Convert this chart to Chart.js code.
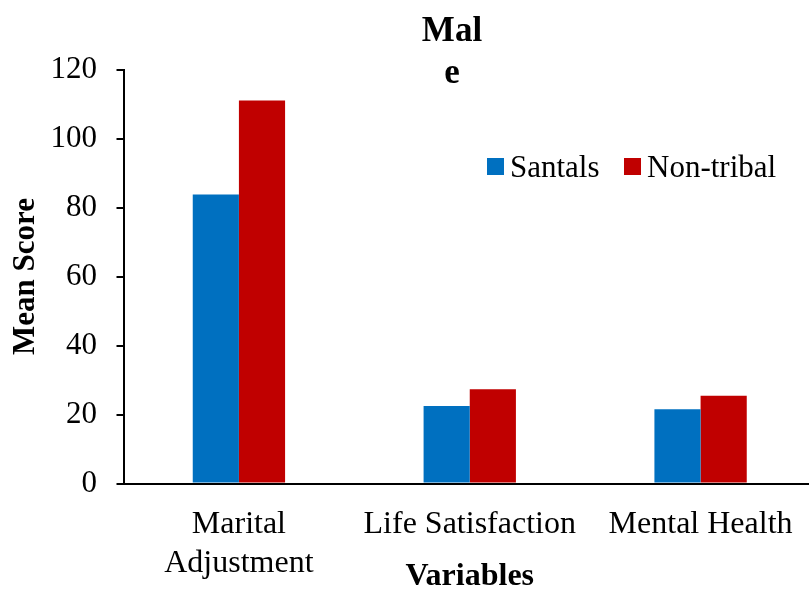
<!DOCTYPE html>
<html>
<head>
<meta charset="utf-8">
<script src="https://cdn.jsdelivr.net/npm/chart.js@4.4.1/dist/chart.umd.min.js"></script>
<style>
    html, body { margin: 0; padding: 0; background: #fff; overflow: hidden; }
    #wrap { width: 816px; height: 589px; position: relative; }
</style>
</head>
<body>
<div id="wrap"><canvas id="chart"></canvas></div>
<script>
// --- Data ---
const categories = [['Marital', 'Adjustment'], 'Life Satisfaction', 'Mental Health'];
const santals = [83.8, 22.5, 21.5];
const nonTribal = [111.0, 27.3, 25.4];
const yTicks = [0, 20, 40, 60, 80, 100, 120];
const titleLines = ['Mal', 'e'];

const SERIF = "'Liberation Serif', 'Times New Roman', serif";

// --- Title + legend drawn over the plot (as in the original figure) ---
const overlay = {
    id: 'overlay',
    afterDraw(chart) {
        const ctx = chart.ctx;
        ctx.save();
        ctx.fillStyle = '#000';
        ctx.textAlign = 'center';
        ctx.textBaseline = 'alphabetic';
        ctx.font = `bold 35px ${SERIF}`;
        titleLines.forEach((t, i) => ctx.fillText(t, 452, 41 + i * 42));

        // legend
        ctx.font = `31px ${SERIF}`;
        ctx.textAlign = 'left';
        const items = [{ x: 487 }, { x: 624 }];
        chart.data.datasets.forEach((ds, i) => {
            ctx.fillStyle = ds.backgroundColor;
            ctx.fillRect(items[i].x, 158, 17, 17);
            ctx.fillStyle = '#000';
            ctx.fillText(ds.label, items[i].x + 23, 176.5);
        });
        ctx.restore();
    }
};

new Chart(document.getElementById('chart'), {
    type: 'bar',
    data: {
        labels: categories,
        datasets: [
            { label: 'Santals', data: santals, backgroundColor: '#0070C0', categoryPercentage: 0.4, barPercentage: 1.0 },
            { label: 'Non-tribal', data: nonTribal, backgroundColor: '#C00000', categoryPercentage: 0.4, barPercentage: 1.0 }
        ]
    },
    options: {
        responsive: true,
        maintainAspectRatio: false,
        animation: false,
        layout: { padding: { top: 69.5, left: 0, right: 0, bottom: 0 } },
        plugins: { legend: { display: false }, tooltip: { enabled: false } },
        scales: {
            x: {
                grid: { display: false, drawTicks: false },
                border: { display: true, color: '#000', width: 2 },
                ticks: { color: '#000', font: { family: SERIF, size: 32, lineHeight: 1.2 }, padding: 22, maxRotation: 0, autoSkip: false },
                title: { display: true, text: 'Variables', color: '#000', font: { family: SERIF, size: 32, weight: 'bold', lineHeight: 0.75 }, padding: 0 },
                afterFit: s => { s.height = 105.5; }
            },
            y: {
                min: 0, max: 120,
                afterBuildTicks: s => { s.ticks = yTicks.map(v => ({ value: v })); },
                grid: { drawOnChartArea: false, drawTicks: true, tickLength: 7, color: '#000', lineWidth: 2 },
                border: { display: true, color: '#000', width: 2 },
                ticks: { color: '#000', font: { family: SERIF, size: 31 }, padding: 19.5 },
                title: { display: true, text: 'Mean Score', color: '#000', font: { family: SERIF, size: 31, weight: 'bold', lineHeight: 1 }, padding: { top: 10.5, bottom: 0 } },
                afterFit: s => { s.width = 123.5; }
            }
        }
    },
    plugins: [overlay]
});
</script>
</body>
</html>
